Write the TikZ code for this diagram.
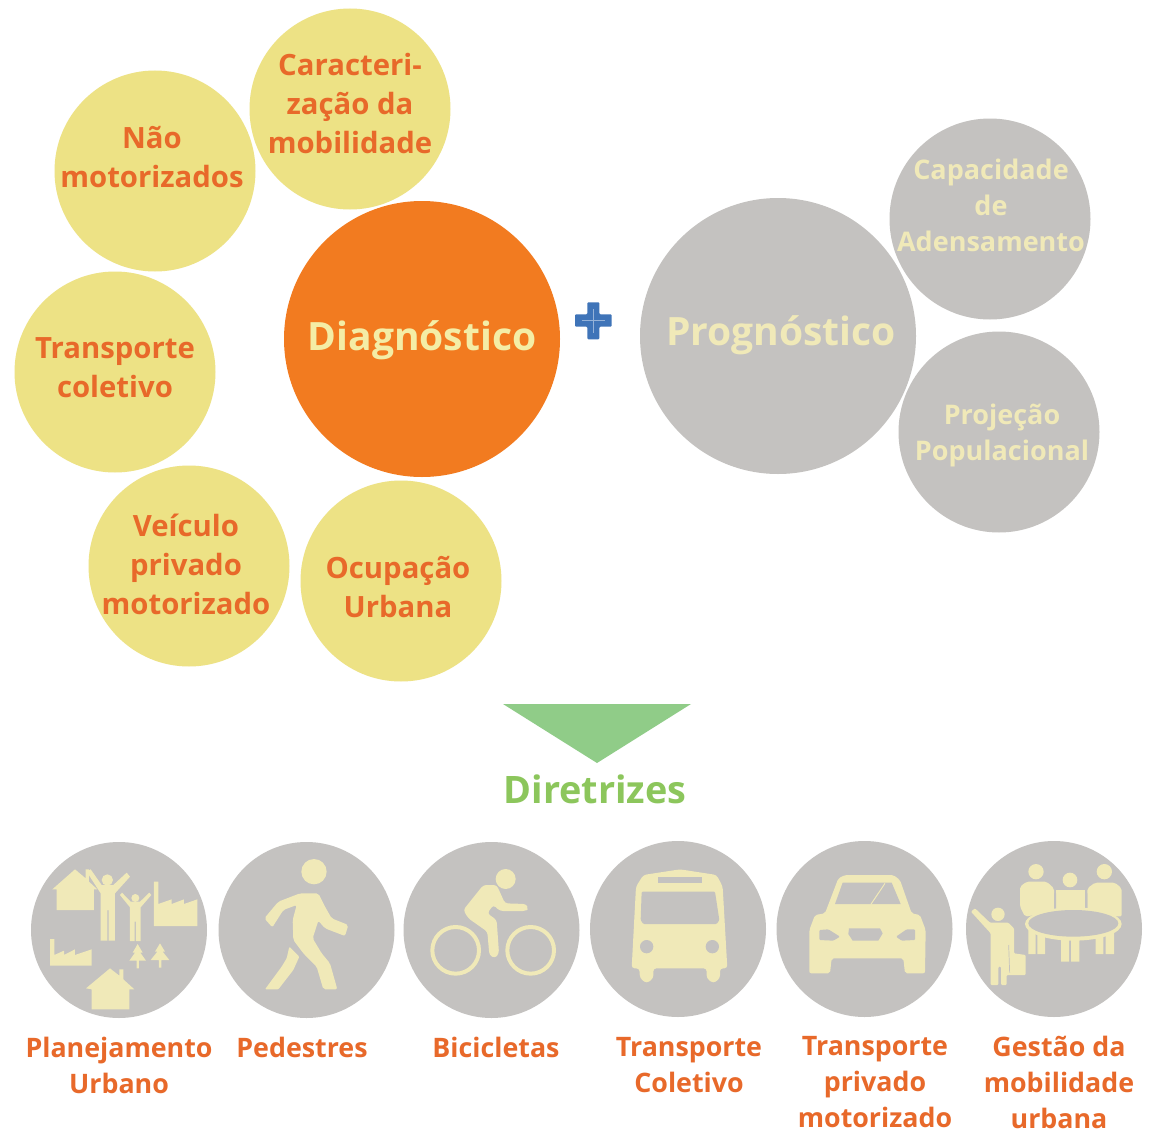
\documentclass[tikz,border=0pt]{standalone}
\usepackage{fontspec}
\setmainfont{Open Sans}
\definecolor{yel}{HTML}{EDE285}
\definecolor{org}{HTML}{F27B20}
\definecolor{txo}{HTML}{E8692A}
\definecolor{gry}{HTML}{C4C2C0}
\definecolor{crm}{HTML}{F0E9B8}
\definecolor{pale}{HTML}{F4EDA6}
\definecolor{blu}{HTML}{3F74B8}
\definecolor{tri}{HTML}{90CC88}
\definecolor{grn}{HTML}{8CC65C}
\tikzset{
 disc/.style={circle,inner sep=0pt,minimum size=#1,draw=none},
 small/.style={disc=201pt,fill=yel},
 smallg/.style={disc=201pt,fill=gry},
 big/.style={disc=276pt},
 icond/.style={disc=176pt,fill=gry},
 lab/.style={align=center,text=txo,inner sep=0pt,font=\fontsize{29.3}{39}\selectfont\bfseries},
 labg/.style={align=center,text=crm,inner sep=0pt,font=\fontsize{27}{36}\selectfont\bfseries},
 capt/.style={align=center,text=txo,inner sep=0pt,font=\fontsize{26.8}{36}\selectfont\bfseries},
 ic/.style={fill=crm,draw=none},
 hole/.style={fill=gry,draw=none}
}
\begin{document}
\begin{tikzpicture}[x=1pt,y=-1pt]
\useasboundingbox (0,0) rectangle (1149,1132);
\fill[white] (0,0) rectangle (1149,1132);
% upper circles
\node[small] (c1) at (350,109) {};
\node[small] (c2) at (155,171) {};
\node[small] (c3) at (115,372) {};
\node[small] (c4) at (189,566) {};
\node[small] (c5) at (401,581) {};
\node[big,fill=org] (d) at (422,339) {};
\node[big,fill=gry] (p) at (778,336) {};
\node[smallg] (g1) at (990,219) {};
\node[smallg] (g2) at (999,432) {};
\node[lab] (t1) at (350,104) {Caracteri-\\zação da\\mobilidade};
\node[lab] (t2) at (152,157) {Não\\motorizados};
\node[lab] (t3) at (115,368) {Transporte\\coletivo};
\node[lab] (t4) at (186,564) {Veículo\\privado\\motorizado};
\node[lab] (t5) at (398,587) {Ocupação\\Urbana};
\node[inner sep=0pt,text=pale,font=\fontsize{39}{42}\selectfont\bfseries] (td) at (422,340) {Diagnóstico};
\node[inner sep=0pt,text=crm,font=\fontsize{39}{42}\selectfont\bfseries] (tp) at (781,335) {Prognóstico};
\node[labg] (t6) at (991,205) {Capacidade\\de\\Adensamento};
\node[labg] (t7) at (1002,435) {Projeção\\Populacional};
% plus
\begin{scope}[shift={(540,280)},scale=1/3]
\fill[blu,rounded corners=1pt] (105,103) -- (142,103) -- (142,67) -- (178,67) -- (178,103) -- (215,103) -- (215,140) -- (178,140) -- (178,178) -- (142,178) -- (142,140) -- (105,140) -- cycle;
\draw[blu!55!white,line width=1pt] (125,121) -- (195,121) (160,88) -- (160,158);
\end{scope}
% arrow
\fill[tri] (503,704) -- (691,704) -- (597,763) -- cycle;
\node[inner sep=0pt,text=grn,font=\fontsize{37.8}{40}\selectfont\bfseries] (dir) at (595,789) {Diretrizes};
% icon discs
\node[icond] (i1) at (119,930) {};
\node[icond] (i2) at (306.5,930) {};
\node[icond] (i3) at (491.5,930) {};
\node[icond] (i4) at (678,929) {};
\node[icond] (i5) at (864.5,929) {};
\node[icond] (i6) at (1054,929) {};
% icons 1 and 2
\begin{scope}[shift={(20,830)},scale=1/3]
\fill[ic] (97,178) -- (165,118) -- (197,145) -- (197,118) -- (207,118) -- (207,155) -- (232,178) -- (222,178) -- (222,240) -- (110,240) -- (110,178) -- cycle;
\fill[ic] (262,150) circle (17);
\fill[ic] (200,125) -- (212,118) -- (245,165) -- (280,165) -- (320,128) -- (330,140) -- (285,190) -- (285,332) -- (266,332) -- (266,240) -- (262,240) -- (262,332) -- (242,332) -- (242,190) -- cycle;
\fill[ic] (346,204) circle (12);
\fill[ic] (300,195) -- (306,188) -- (332,215) -- (360,215) -- (388,188) -- (394,195) -- (362,232) -- (362,333) -- (348,333) -- (348,275) -- (344,275) -- (344,333) -- (330,333) -- (330,232) -- cycle;
\fill[ic] (402,155) -- (415,155) -- (415,222) -- (455,208) -- (455,222) -- (492,208) -- (492,222) -- (532,208) -- (532,288) -- (402,288) -- cycle;
\fill[ic] (90,327) -- (103,327) -- (103,375) -- (132,362) -- (132,375) -- (165,358) -- (165,375) -- (215,358) -- (215,407) -- (90,407) -- cycle;
\fill[ic] (353,342) -- (368,368) -- (361,368) -- (378,392) -- (357,392) -- (357,415) -- (350,415) -- (350,392) -- (328,392) -- (345,368) -- (338,368) -- cycle;
\fill[ic] (420,340) -- (435,365) -- (428,365) -- (448,390) -- (424,390) -- (424,413) -- (417,413) -- (417,390) -- (392,390) -- (412,365) -- (405,365) -- cycle;
\fill[ic] (198,475) -- (270,415) -- (298,437) -- (298,418) -- (310,418) -- (310,448) -- (343,478) -- (328,478) -- (328,538) -- (215,538) -- (215,478) -- cycle;
\fill[ic] (882,125) circle (38);
\fill[ic,rounded corners=2pt] (733,265) -- (775,215) -- (840,190) -- (895,190) -- (915,230) -- (935,265) -- (985,285) -- (975,318) -- (915,295) -- (895,272) -- (878,325) -- (905,370) -- (930,400) -- (952,478) -- (910,478) -- (890,410) -- (850,370) -- (820,330) -- (818,270) -- (830,225) -- (790,240) -- (757,292) -- cycle;
\fill[ic,rounded corners=1pt] (808,350) -- (838,380) -- (820,420) -- (775,478) -- (735,478) -- (785,410) -- (800,385) -- cycle;
\end{scope}
% icons 3 and 4
\begin{scope}[shift={(400,830)},scale=1/3]
\fill[ic] (317,147) circle (30);
\draw[crm,line width=4pt] (167,361) circle (70) (392,361) circle (70);
\fill[ic,rounded corners=3pt] (190,240) -- (250,165) -- (290,165) -- (315,220) -- (378,222) -- (385,235) -- (378,243) -- (300,243) -- (280,225) -- (262,250) -- (290,270) -- (297,370) -- (285,385) -- (268,375) -- (262,305) -- (205,265) -- cycle;
\fill[ic,rounded corners=3pt] (695,415) -- (708,170) -- (730,135) -- (840,118) -- (950,135) -- (968,170) -- (982,415) -- (960,415) -- (960,445) -- (940,460) -- (920,445) -- (920,415) -- (760,415) -- (760,445) -- (740,460) -- (720,445) -- (718,415) -- cycle;
\fill[hole,rounded corners=1pt] (725,185) -- (945,185) -- (958,270) -- (950,282) -- (730,282) -- (722,270) -- cycle;
\fill[hole] (775,142) rectangle (905,158);
\fill[hole] (740,350) circle (20) (937,350) circle (20);
\end{scope}
% icons 5 and 6
\begin{scope}[shift={(770,830)},scale=1/3]
\fill[ic,rounded corners=2pt] (118,300) -- (135,255) -- (165,250) -- (205,145) -- (225,135) -- (370,135) -- (390,150) -- (425,250) -- (450,255) -- (467,300) -- (465,430) -- (405,430) -- (400,385) -- (185,385) -- (180,430) -- (118,430) -- cycle;
\fill[hole] (195,222) -- (218,158) -- (365,158) -- (392,222) -- cycle;
\draw[crm,line width=1pt] (302,224) -- (345,160);
\fill[hole,rounded corners=1pt] (148,300) -- (175,298) -- (210,320) -- (190,332) -- (148,330) -- cycle;
\fill[hole,rounded corners=1pt] (435,298) -- (410,298) -- (378,320) -- (395,332) -- (435,330) -- cycle;
\fill[hole] (237,295) -- (330,295) -- (338,310) -- (325,332) -- (248,332) -- (235,312) -- cycle;
\fill[ic] (798,125) circle (23) (900,150) circle (22) (1003,125) circle (23);
\fill[ic,rounded corners=2pt] (750,170) -- (770,155) -- (830,155) -- (852,175) -- (852,245) -- (765,260) -- (750,230) -- cycle;
\fill[ic] (858,180) rectangle (945,245);
\fill[ic,rounded corners=2pt] (952,175) -- (975,158) -- (1035,158) -- (1055,175) -- (1055,260) -- (1000,255) -- (952,240) -- cycle;
\fill[gry] (852,190) rectangle (858,240) (945,190) rectangle (952,240);
\fill[ic] (775,300) rectangle (797,372) (802,310) rectangle (825,372);
\fill[ic] (873,320) rectangle (897,395) (903,320) rectangle (928,395);
\fill[ic] (977,310) rectangle (1000,372) (1007,300) rectangle (1032,372);
\fill[ic] (910,282) ellipse (145 and 50);
\fill[hole] (910,280) ellipse (135 and 40);
\fill[ic] (684,253) circle (20);
\fill[ic,rounded corners=1pt] (603,245) -- (615,235) -- (660,278) -- (715,278) -- (732,295) -- (732,370) -- (767,375) -- (767,435) -- (710,435) -- (710,465) -- (693,465) -- (693,410) -- (685,410) -- (685,465) -- (662,465) -- (662,310) -- cycle;
\draw[gry,line width=.7pt] (716,345) -- (719,428);
\end{scope}
% captions
\node[capt] (l1) at (119,1065) {Planejamento\\Urbano};
\node[capt] (l2) at (302,1047) {Pedestres};
\node[capt] (l3) at (496,1047) {Bicicletas};
\node[capt] (l4) at (689,1065) {Transporte\\Coletivo};
\node[capt] (l5) at (875,1082) {Transporte\\privado\\motorizado};
\node[capt] (l6) at (1059,1082) {Gestão da\\mobilidade\\urbana};
\end{tikzpicture}
\end{document}
